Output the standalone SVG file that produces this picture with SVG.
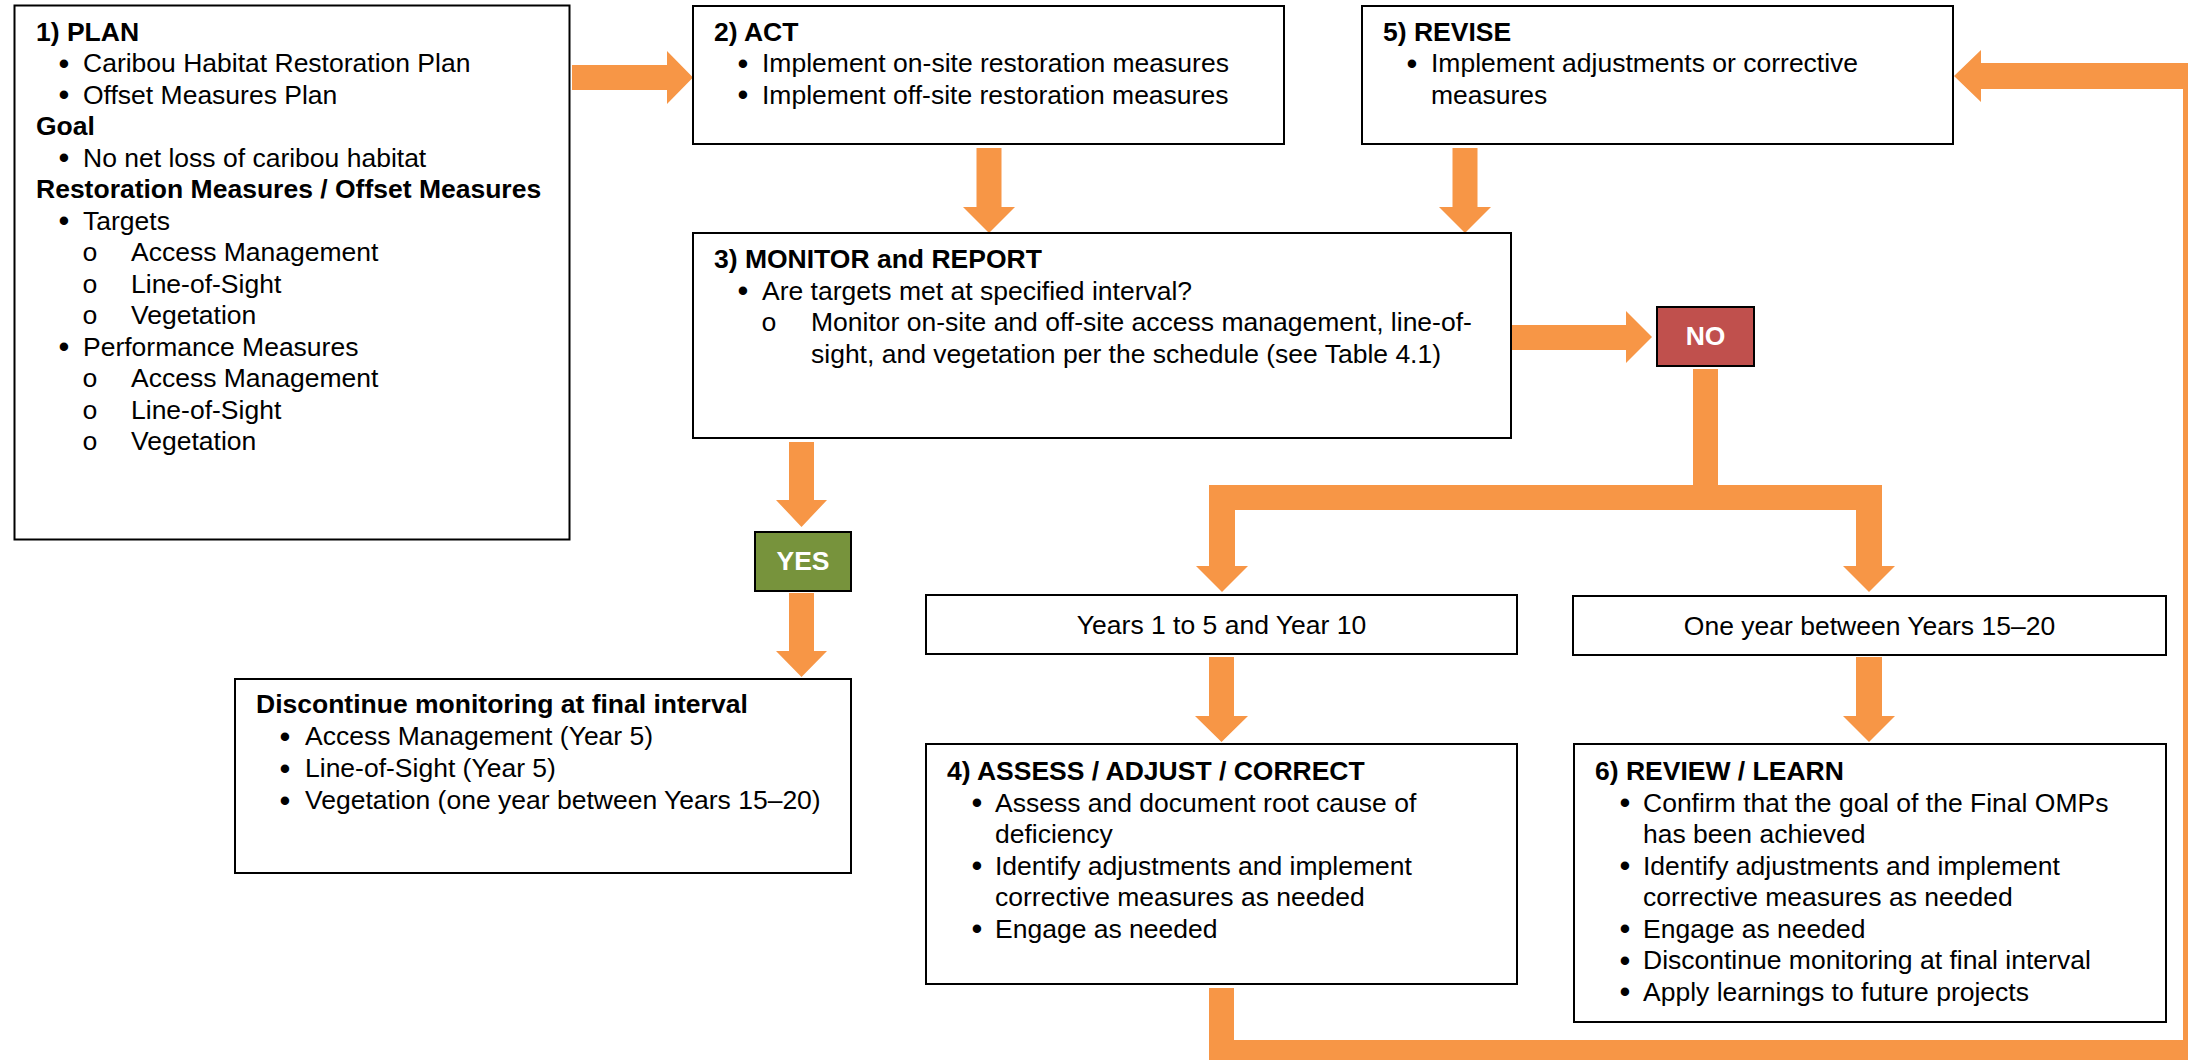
<svg xmlns="http://www.w3.org/2000/svg" width="2188" height="1060" viewBox="0 0 2188 1060">
<style>
.box{fill:#fff;stroke:#000;stroke-width:2}
.t{font-family:"Liberation Sans",Arial,sans-serif;font-size:26.5px;fill:#000}
.b{font-weight:bold}
.c{text-anchor:middle}
.bl{font-size:31px}
.o{font-family:"Liberation Mono","Courier New",monospace;font-size:26.5px;fill:#000;text-anchor:middle}
.w{fill:#fff;font-weight:bold}
.arrow{fill:#F79646}
</style>
<rect width="2188" height="1060" fill="#fff"/>
<g id="connectors">
<polygon class="arrow" points="572,65 667,65 667,51 693,77.5 667,104 667,90 572,90"/>
<polygon class="arrow" points="976.5,148 1001.5,148 1001.5,207 1015,207 989,233 963,207 976.5,207"/>
<polygon class="arrow" points="1452.5,148 1477.5,148 1477.5,207 1491,207 1465,233 1439,207 1452.5,207"/>
<polygon class="arrow" points="1511,325 1626,325 1626,311 1652,337 1626,363 1626,350 1511,350"/>
<polygon class="arrow" points="1693,369 1718,369 1718,485 1882,485 1882,566 1895,566 1869,592 1843,566 1856,566 1856,510 1235,510 1235,566 1248,566 1222,592 1196,566 1209,566 1209,485 1693,485"/>
<polygon class="arrow" points="789,442 814,442 814,500 827,500 801.5,527 776,500 789,500"/>
<polygon class="arrow" points="789,593 814,593 814,651 827,651 801.5,677 776,651 789,651"/>
<polygon class="arrow" points="1209,657 1234,657 1234,716 1248,716 1221.5,742 1195,716 1209,716"/>
<polygon class="arrow" points="1856,657 1882,657 1882,716 1895,716 1869,742 1843,716 1856,716"/>
<polygon class="arrow" points="1209,988 1234,988 1234,1040 2183,1040 2183,89 1981,89 1981,102 1954,76 1981,50 1981,63 2208,63 2208,1065 1209,1065"/>
</g>
<g id="plan">
<rect class="box" x="14.5" y="5.5" width="555" height="534"/>
<text class="t b" x="36" y="40.7">1) PLAN</text>
<text class="t c bl" x="64" y="73.7">•</text><text class="t" x="83" y="72.2">Caribou Habitat Restoration Plan</text>
<text class="t c bl" x="64" y="105.2">•</text><text class="t" x="83" y="103.7">Offset Measures Plan</text>
<text class="t b" x="36" y="135.2">Goal</text>
<text class="t c bl" x="64" y="168.2">•</text><text class="t" x="83" y="166.7">No net loss of caribou habitat</text>
<text class="t b" x="36" y="198.2">Restoration Measures / Offset Measures</text>
<text class="t c bl" x="64" y="231.2">•</text><text class="t" x="83" y="229.7">Targets</text>
<text class="o" x="90" y="261.2">o</text><text class="t" x="131" y="261.2">Access Management</text>
<text class="o" x="90" y="292.7">o</text><text class="t" x="131" y="292.7">Line-of-Sight</text>
<text class="o" x="90" y="324.2">o</text><text class="t" x="131" y="324.2">Vegetation</text>
<text class="t c bl" x="64" y="357.2">•</text><text class="t" x="83" y="355.7">Performance Measures</text>
<text class="o" x="90" y="387.2">o</text><text class="t" x="131" y="387.2">Access Management</text>
<text class="o" x="90" y="418.7">o</text><text class="t" x="131" y="418.7">Line-of-Sight</text>
<text class="o" x="90" y="450.2">o</text><text class="t" x="131" y="450.2">Vegetation</text>
</g>
<g id="act">
<rect class="box" x="693" y="6" width="591" height="138"/>
<text class="t b" x="714" y="40.7">2) ACT</text>
<text class="t c bl" x="743" y="73.7">•</text><text class="t" x="762" y="72.2">Implement on-site restoration measures</text>
<text class="t c bl" x="743" y="105.2">•</text><text class="t" x="762" y="103.7">Implement off-site restoration measures</text>
</g>
<g id="revise">
<rect class="box" x="1362" y="6" width="591" height="138"/>
<text class="t b" x="1383" y="40.7">5) REVISE</text>
<text class="t c bl" x="1412" y="73.7">•</text><text class="t" x="1431" y="72.2">Implement adjustments or corrective</text>
<text class="t" x="1431" y="103.7">measures</text>
</g>
<g id="monitor">
<rect class="box" x="693" y="233" width="818" height="205"/>
<text class="t b" x="714" y="268">3) MONITOR and REPORT</text>
<text class="t c bl" x="743" y="301">•</text><text class="t" x="762" y="299.5">Are targets met at specified interval?</text>
<text class="o" x="769" y="331">o</text><text class="t" x="811" y="331">Monitor on-site and off-site access management, line-of-</text>
<text class="t" x="811" y="362.5">sight, and vegetation per the schedule (see Table 4.1)</text>
</g>
<g id="no">
<rect x="1657" y="307" width="97" height="59" fill="#C0504D" stroke="#000" stroke-width="2"/>
<text class="t c w" x="1705.5" y="345">NO</text>
</g>
<g id="yes">
<rect x="755" y="532" width="96" height="59" fill="#77933C" stroke="#000" stroke-width="2"/>
<text class="t c w" x="803" y="570">YES</text>
</g>
<g id="discontinue">
<rect class="box" x="235" y="679" width="616" height="194"/>
<text class="t b" x="256" y="713">Discontinue monitoring at final interval</text>
<text class="t c bl" x="285" y="746.5">•</text><text class="t" x="305" y="745">Access Management (Year 5)</text>
<text class="t c bl" x="285" y="778.5">•</text><text class="t" x="305" y="777">Line-of-Sight (Year 5)</text>
<text class="t c bl" x="285" y="810.5">•</text><text class="t" x="305" y="809">Vegetation (one year between Years 15–20)</text>
</g>
<g id="years1to5">
<rect class="box" x="926" y="595" width="591" height="59"/>
<text class="t c" x="1221.5" y="634">Years 1 to 5 and Year 10</text>
</g>
<g id="years15to20">
<rect class="box" x="1573" y="596" width="593" height="59"/>
<text class="t c" x="1869.5" y="635">One year between Years 15–20</text>
</g>
<g id="assess">
<rect class="box" x="926" y="744" width="591" height="240"/>
<text class="t b" x="947" y="780">4) ASSESS / ADJUST / CORRECT</text>
<text class="t c bl" x="977" y="813">•</text><text class="t" x="995" y="811.5">Assess and document root cause of</text>
<text class="t" x="995" y="843">deficiency</text>
<text class="t c bl" x="977" y="876">•</text><text class="t" x="995" y="874.5">Identify adjustments and implement</text>
<text class="t" x="995" y="906">corrective measures as needed</text>
<text class="t c bl" x="977" y="939">•</text><text class="t" x="995" y="937.5">Engage as needed</text>
</g>
<g id="review">
<rect class="box" x="1574" y="744" width="592" height="278"/>
<text class="t b" x="1595" y="780">6) REVIEW / LEARN</text>
<text class="t c bl" x="1625" y="813">•</text><text class="t" x="1643" y="811.5">Confirm that the goal of the Final OMPs</text>
<text class="t" x="1643" y="843">has been achieved</text>
<text class="t c bl" x="1625" y="876">•</text><text class="t" x="1643" y="874.5">Identify adjustments and implement</text>
<text class="t" x="1643" y="906">corrective measures as needed</text>
<text class="t c bl" x="1625" y="939">•</text><text class="t" x="1643" y="937.5">Engage as needed</text>
<text class="t c bl" x="1625" y="970.5">•</text><text class="t" x="1643" y="969">Discontinue monitoring at final interval</text>
<text class="t c bl" x="1625" y="1002">•</text><text class="t" x="1643" y="1000.5">Apply learnings to future projects</text>
</g>
</svg>
